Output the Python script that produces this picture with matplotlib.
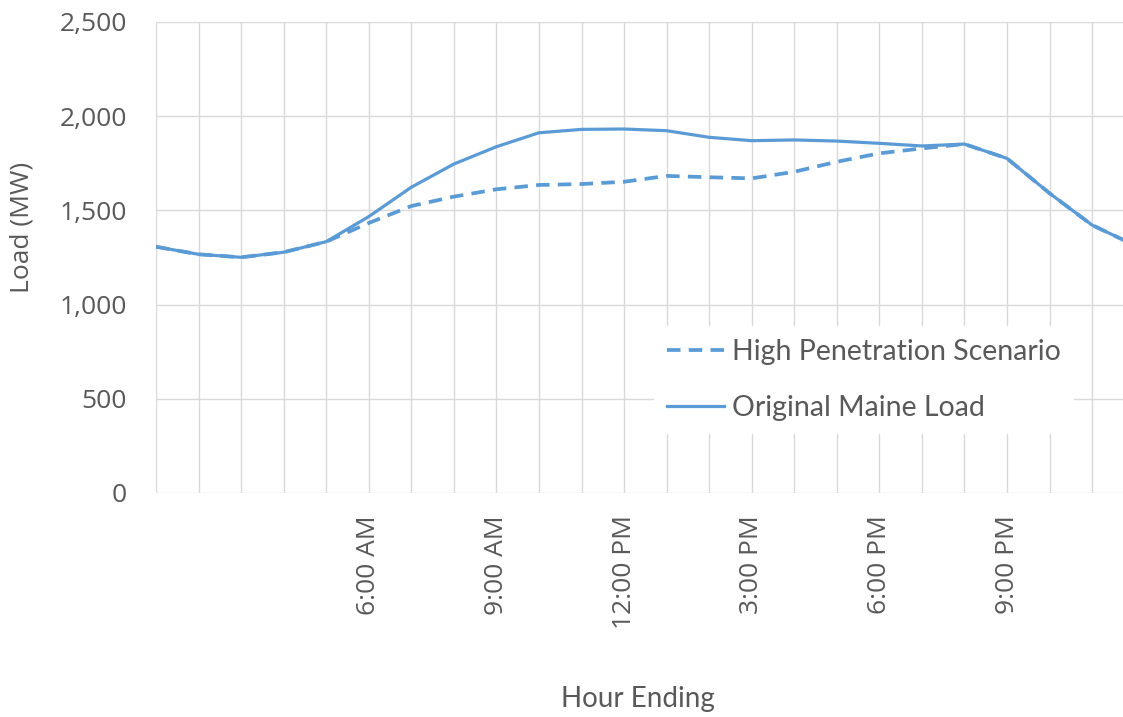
import numpy as np
import matplotlib
matplotlib.use("Agg")
import matplotlib.pyplot as plt

# hour ending 1..24
hours = list(range(1, 25))
original_load = [1307, 1267, 1251, 1278, 1334, 1467, 1623, 1746, 1838, 1912, 1930, 1932,
                 1923, 1888, 1870, 1874, 1868, 1856, 1842, 1852, 1776, 1591, 1422, 1315]
high_pen = [1307, 1267, 1251, 1278, 1334, 1433, 1523, 1573, 1612, 1635, 1640, 1652,
            1683, 1676, 1670, 1705, 1758, 1803, 1829, 1852, 1776, 1591, 1422, 1315]
tick_hours = [6, 9, 12, 15, 18, 21]
tick_labels = ['6:00 AM', '9:00 AM', '12:00 PM', '3:00 PM', '6:00 PM', '9:00 PM']

blue = '#5B9BD5'
grey = '#595959'
plt.rcParams['font.family'] = ['Open Sans', 'DejaVu Sans']

fig = plt.figure(figsize=(11.23, 7.17), dpi=100)
ax = fig.add_axes([156/1123, 1 - 493/717, 1 - 156/1123, (493 - 22)/717])

ax.plot(hours, high_pen, color=blue, lw=2.7, dashes=(3.6, 2.2),
        label='High Penetration Scenario', zorder=3)
ax.plot(hours, original_load, color=blue, lw=2.3, label='Original Maine Load', zorder=3)

ax.set_yticks(range(0, 2501, 500))
ax.set_yticklabels([f'{v:,}' for v in range(0, 2501, 500)])
ax.set_xticks(hours, minor=True)
ax.set_xticks(tick_hours)
ax.set_xticklabels(tick_labels, rotation=90, va='top')
# limits after ticks (set_xticks widens the view)
ax.set_xlim(1, 1 + (1123 - 156) / 42.55)
ax.set_ylim(0, 2500)

ax.grid(which='both', axis='both', color='#D9D9D9', lw=1)
ax.set_axisbelow(True)
for s in ax.spines.values():
    s.set_visible(False)
ax.tick_params(which='both', length=0)
ax.tick_params(axis='y', pad=21, labelsize=19, labelcolor=grey)
ax.tick_params(axis='x', pad=16, labelsize=19, labelcolor=grey)

fig.text(638/1123, 1 - 699/717, 'Hour Ending', ha='center', va='center',
         fontsize=20, color=grey, family=['Lato', 'DejaVu Sans'])
fig.text(22/1123, 1 - 227/717, 'Load (MW)', ha='center', va='center',
         rotation=90, fontsize=19, color=grey)

leg = ax.legend(loc='upper left', bbox_to_anchor=(640/1123, 1 - 312/717),
                bbox_transform=fig.transFigure, frameon=True,
                prop={'family': ['Lato', 'DejaVu Sans'], 'size': 20.5},
                facecolor='white', edgecolor='none', framealpha=1, fancybox=False,
                handlelength=2.0, handletextpad=0.28, labelspacing=1.05, borderpad=0.45)
for t in leg.get_texts():
    t.set_color(grey)

fig.savefig('out.png', dpi=100)
